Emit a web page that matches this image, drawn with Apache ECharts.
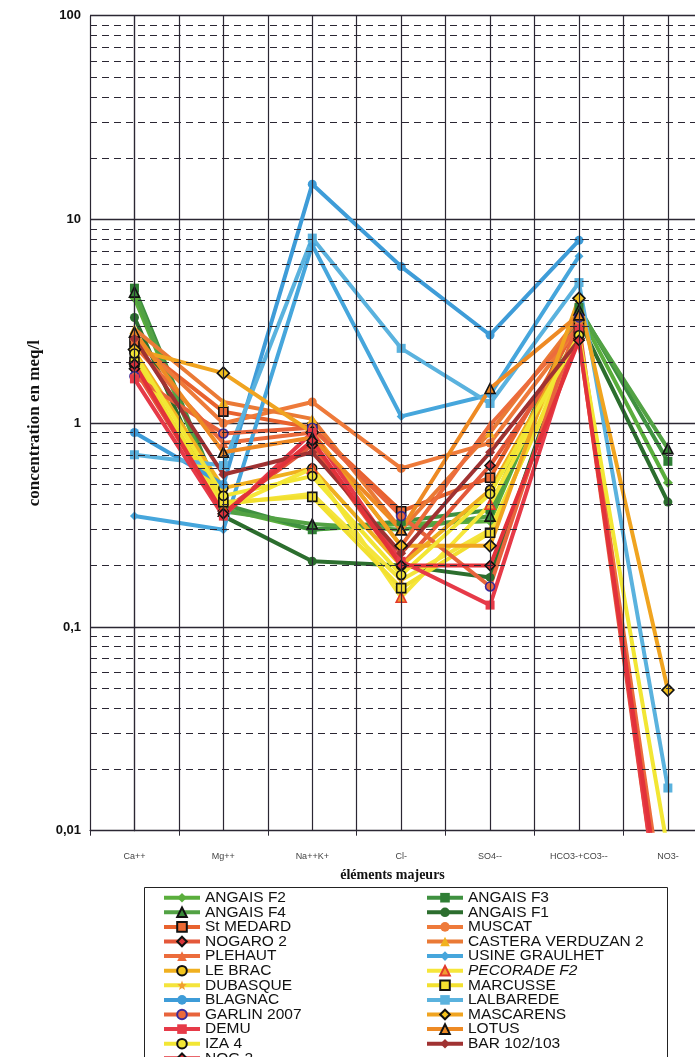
<!DOCTYPE html>
<html>
<head>
<meta charset="utf-8">
<script src="https://cdn.jsdelivr.net/npm/echarts@6/dist/echarts.min.js"></script>
<style>
html,body{margin:0;padding:0;background:#fff}
#chart{width:695px;height:1057px}
</style>
</head>
<body>
<div id="chart"></div>
<script>
// Major ions, in meq/l, for each sampled well
const categories = ['Ca++', 'Mg++', 'Na++K+', 'Cl-', 'SO4--', 'HCO3-+CO3--', 'NO3-'];
const yTickLabels = ['0,01', '0,1', '1', '10', '100'];
const minorGridValues = [0.02, 0.03, 0.04, 0.05, 0.06, 0.07, 0.08, 0.09,
  0.2, 0.3, 0.4, 0.5, 0.6, 0.7, 0.8, 0.9,
  2, 3, 4, 5, 6, 7, 8, 9,
  20, 30, 40, 50, 60, 70, 80, 90];

const angaisF2 = [4.1, 0.38, 0.30, 0.32, 0.33, 3.5, 0.51];
const angaisF3 = [4.6, 0.40, 0.30, 0.33, 0.375, 3.7, 0.65];
const angaisF4 = [4.4, 0.37, 0.32, 0.30, 0.35, 3.6, 0.75];
const angaisF1 = [3.3, 0.35, 0.21, 0.20, 0.175, 3.2, 0.41];
const stMedard = [2.5, 1.14, 0.95, 0.37, 0.54, 3.1, null];
const muscat = [2.6, 1.0, 1.27, 0.60, 0.8, 3.0, null];
const nogaro2 = [1.85, 0.37, 0.78, 0.20, 0.62, 2.6, 0.002];
const castera = [2.9, 1.27, 1.05, 0.30, 0.9, 3.3, null];
const plehaut = [2.4, 0.8, 0.9, 0.25, 0.98, 3.0, 0.003];
const usineGraulhet = [0.35, 0.30, 7.5, 1.08, 1.38, 6.6, null];
const leBrac = [2.25, 0.48, 0.6, 0.20, 0.47, 2.8, null];
const pecorade = [2.1, 0.38, 0.6, 0.14, 0.40, 2.7, null];
const dubasque = [2.0, 0.40, 0.45, 0.17, 0.30, 2.6, null];
const marcusse = [2.0, 0.41, 0.435, 0.155, 0.29, 2.8, null];
const blagnac = [0.9, 0.5, 14.9, 5.87, 2.71, 7.9, null];
const lalbarede = [0.7, 0.62, 8.1, 2.33, 1.25, 4.9, 0.0162];
const garlin2007 = [1.7, 0.89, 0.95, 0.35, 0.158, 3.3, null];
const mascarens = [2.3, 1.76, 0.9, 0.25, 0.25, 4.1, 0.049];
const demu = [1.65, 0.35, 0.9, 0.21, 0.128, 2.9, 0.002];
const lotus = [2.8, 0.72, 0.85, 0.30, 1.48, 3.4, null];
const iza4 = [2.2, 0.44, 0.55, 0.18, 0.45, 2.7, 0.008];
const bar102 = [2.6, 0.56, 0.72, 0.23, 0.72, 2.55, null];
const nog2 = [1.95, 0.36, 0.82, 0.20, 0.20, 2.55, 0.0025];

const STAR = 'path://M0,-10L2.4,-3.3L9.5,-3.1L3.9,1.3L5.9,8.1L0,4.1L-5.9,8.1L-3.9,1.3L-9.5,-3.1L-2.4,-3.3Z';

// name, values, line colour, marker, marker fill, marker border, marker size
const wells = [
  ['ANGAIS F2', angaisF2, '#5aae3c', 'diamond', '#5aae3c', '#5aae3c', 10],
  ['ANGAIS F3', angaisF3, '#3f9140', 'rect', '#2f7f35', '#2f7f35', 9],
  ['ANGAIS F4', angaisF4, '#52a244', 'triangle', '#3a8a3a', '#111', 10],
  ['ANGAIS F1', angaisF1, '#2c6e2e', 'circle', '#2c6e2e', '#2c6e2e', 9],
  ['St MEDARD', stMedard, '#e8622e', 'rect', '#ec6a34', '#111', 9],
  ['MUSCAT', muscat, '#ee7a3a', 'circle', '#ee7a3a', '#ee7a3a', 9],
  ['NOGARO 2', nogaro2, '#e4583a', 'diamond', '#d8343a', '#111', 10],
  ['CASTERA VERDUZAN 2', castera, '#ea7a36', 'triangle', '#f2b21e', '#f2b21e', 10],
  ['PLEHAUT', plehaut, '#ec6c3c', 'triangle', '#ec6c3c', '#ec6c3c', 10],
  ['USINE GRAULHET', usineGraulhet, '#46a6dc', 'diamond', '#46a6dc', '#46a6dc', 9],
  ['LE BRAC', leBrac, '#f0b020', 'circle', '#f2c51e', '#111', 9],
  ['PECORADE F2', pecorade, '#f6e63a', 'triangle', '#f29a30', '#e23a2a', 10],
  ['DUBASQUE', dubasque, '#f4e43c', STAR, '#f0a030', '#f0a030', 9],
  ['MARCUSSE', marcusse, '#f2e030', 'rect', '#f4e030', '#111', 9],
  ['BLAGNAC', blagnac, '#3e9cd8', 'circle', '#3e9cd8', '#3e9cd8', 9],
  ['LALBAREDE', lalbarede, '#5ab2de', 'rect', '#5ab2de', '#5ab2de', 9],
  ['GARLIN 2007', garlin2007, '#e8643c', 'circle', '#ec6a3c', '#3a2a9a', 9],
  ['MASCARENS', mascarens, '#f0a420', 'diamond', '#f4c21e', '#111', 12],
  ['DEMU', demu, '#e63a48', 'rect', '#e63a48', '#e63a48', 9],
  ['LOTUS', lotus, '#ee8a24', 'triangle', '#ee8a24', '#111', 10],
  ['IZA 4', iza4, '#f2e634', 'circle', '#f2e634', '#111', 9],
  ['BAR 102/103', bar102, '#a03232', 'diamond', '#a03232', '#a03232', 10],
  ['NOG 2', nog2, '#e2323a', 'diamond', '#e2323a', '#111', 10]
];

const leftColumn = ['ANGAIS F2', 'ANGAIS F4', 'St MEDARD', 'NOGARO 2', 'PLEHAUT', 'LE BRAC',
  'DUBASQUE', 'BLAGNAC', 'GARLIN 2007', 'DEMU', 'IZA 4', 'NOG 2'];
const rightColumn = ['ANGAIS F3', 'ANGAIS F1', 'MUSCAT', 'CASTERA VERDUZAN 2', 'USINE GRAULHET',
  'PECORADE F2', 'MARCUSSE', 'LALBAREDE', 'MASCARENS', 'LOTUS', 'BAR 102/103'];

const GRID = '#2b2733';

// category slots sit at 0..6 on a value axis; the plot is cut just past the last slot
const labelPositions = categories.map((_, i) => i);
const boundaryPositions = categories.map((_, i) => i - 0.5);
const verticalGridPositions = categories.flatMap((_, i) => [i - 0.5, i]);

const series = wells.map(w => ({
  name: w[0],
  type: 'line',
  data: w[1].map((v, i) => [i, v == null ? '-' : v]),
  connectNulls: false,
  symbol: w[3],
  symbolSize: w[6],
  showAllSymbol: true,
  clip: true,
  lineStyle: { color: w[2], width: 4 },
  itemStyle: { color: w[4], borderColor: w[5], borderWidth: w[5] === w[4] ? 0 : 1.6 },
  emphasis: { disabled: true },
  animation: false,
  z: 3
}));

// dashed minor gridlines at 2..9 of each decade
series.unshift({
  name: 'minor-grid',
  type: 'line',
  data: [],
  silent: true,
  animation: false,
  z: 1,
  markLine: {
    silent: true,
    animation: false,
    symbol: ['none', 'none'],
    label: { show: false },
    lineStyle: { color: GRID, width: 1.2, type: [7, 5] },
    emphasis: { disabled: true },
    data: minorGridValues.map(v => ({ yAxis: v }))
  }
});

// solid vertical gridlines at every slot centre and slot boundary
series.unshift({
  name: 'slot-grid',
  type: 'line',
  data: [],
  silent: true,
  animation: false,
  z: 1,
  markLine: {
    silent: true,
    animation: false,
    symbol: ['none', 'none'],
    label: { show: false },
    lineStyle: { color: GRID, width: 1.2, type: 'solid' },
    emphasis: { disabled: true },
    data: verticalGridPositions.map(v => ({ xAxis: v }))
  }
});

const legendText = {
  fontFamily: 'Liberation Sans, Arial, sans-serif',
  fontSize: 15.5,
  lineHeight: 14.6,
  color: '#111',
  rich: { it: { fontStyle: 'italic', fontFamily: 'Liberation Sans, Arial, sans-serif', fontSize: 15.5, lineHeight: 14.6, color: '#111' } }
};
const legendFmt = n => n === 'PECORADE F2' ? '{it|' + n + '}' : n;

const legendCommon = {
  orient: 'vertical',
  top: 889.7,
  height: 300,
  padding: 0,
  itemGap: -1.4,
  itemWidth: 36,
  itemHeight: 12,
  selectedMode: false,
  formatter: legendFmt,
  lineStyle: { width: 4 },
  textStyle: legendText
};

const chart = echarts.init(document.getElementById('chart'), null, { renderer: 'canvas' });
chart.setOption({
  backgroundColor: '#fff',
  animation: false,
  grid: { left: 90, top: 15.7, right: 0, bottom: 226.3, containLabel: false },
  xAxis: {
    type: 'value',
    min: -0.5,
    max: 6.305,
    interval: 0.5,
    axisLine: { show: true, onZero: false, lineStyle: { color: GRID, width: 1.2 } },
    axisTick: { show: true, length: 5, customValues: boundaryPositions, lineStyle: { color: GRID } },
    axisLabel: {
      customValues: labelPositions,
      color: '#444',
      fontFamily: 'Liberation Sans, Arial, sans-serif',
      fontSize: 9,
      margin: 21,
      formatter: v => categories[Math.round(v)]
    },
    splitLine: { show: false },
    name: 'éléments majeurs',
    nameLocation: 'middle',
    nameGap: 38,
    nameTextStyle: { fontFamily: 'Liberation Serif, Times New Roman, serif', fontWeight: 'bold', fontSize: 14, color: '#111' }
  },
  yAxis: {
    type: 'log',
    logBase: 10,
    min: 0.01,
    max: 100,
    axisLine: { show: true, lineStyle: { color: GRID, width: 1.2 } },
    axisTick: { show: true, length: 5, lineStyle: { color: GRID } },
    axisLabel: {
      color: '#111',
      fontFamily: 'Liberation Sans, Arial, sans-serif',
      fontWeight: 'bold',
      fontSize: 13,
      margin: 9,
      formatter: v => yTickLabels[Math.round(Math.log10(v)) + 2]
    },
    splitLine: { show: true, lineStyle: { color: GRID, width: 1.4 } },
    minorTick: { show: false },
    name: 'concentration en meq/l',
    nameLocation: 'middle',
    nameGap: 47,
    nameTextStyle: { fontFamily: 'Liberation Serif, Times New Roman, serif', fontWeight: 'bold', fontSize: 17, color: '#111' }
  },
  legend: [
    Object.assign({ data: leftColumn, left: 162 }, legendCommon),
    Object.assign({ data: rightColumn, left: 425 }, legendCommon)
  ],
  graphic: [{
    type: 'rect',
    shape: { x: 144.5, y: 887.5, width: 523, height: 200 },
    style: { fill: null, stroke: '#222', lineWidth: 1 },
    z: -1,
    silent: true
  }],
  series: series
});
</script>
</body>
</html>
